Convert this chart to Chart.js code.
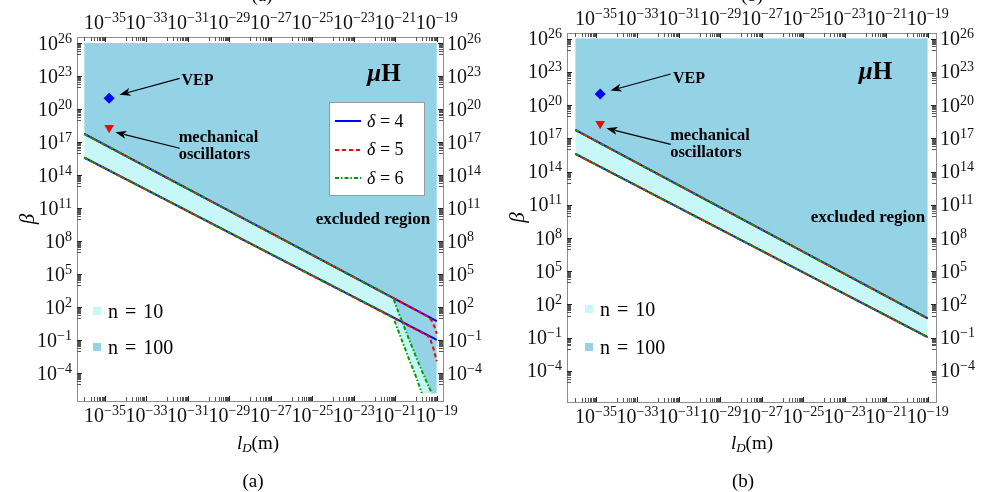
<!DOCTYPE html>
<html>
<head>
<meta charset="utf-8">
<script src="https://cdn.jsdelivr.net/npm/chart.js@4/dist/chart.umd.min.js"></script>
<style>
  body { margin: 0; background: #fff; width: 983px; height: 492px; overflow: hidden; position: relative;
         font-family: "Liberation Serif", "DejaVu Serif", serif; color: #000; }
  .panel { position: absolute; top: 0; height: 492px; }
  .txt { position: absolute; white-space: nowrap; line-height: 1; transform: translate(-50%, -50%); }
  .bold { font-weight: bold; }
  .legbox { position: absolute; background: #fff; border: 1px solid #9a9a9a; box-sizing: border-box; }
  .legrow { position: absolute; left: 5px; height: 20px; display: flex; align-items: center; font-size: 18px; }
  .legrow svg { margin-right: 6px; }
  .sq { position: absolute; width: 8px; height: 8px; }
  .nlab { position: absolute; font-size: 20px; line-height: 1; transform: translateY(-50%); white-space: nowrap; word-spacing: 2px; }
</style>
</head>
<body>
<div class="panel" style="left:0;width:490px"><canvas id="chartA"></canvas></div>
<div class="panel" style="left:490px;width:493px"><canvas id="chartB"></canvas></div>

<script>
// eixos: expoente de l_D (m) no x, expoente de beta no y
const xTicksLabeled = [-35, -33, -31, -29, -27, -25, -23, -21, -19];
const yTicksLabeled = [-4, -1, 2, 5, 8, 11, 14, 17, 20, 23, 26];

// limites da regiao desenhada
const lDRange = [-36, -19];
const betaTop = 26;
const betaBottom = -5.8;

// delta = 4 (retas) -- n = 100 em cima, n = 10 embaixo
const lx4 = [-36, -19];
const beta4n100 = [17.75, 0.75];
const beta4n10 = [15.6, -0.95];

// delta = 5 no painel (a): cai perto de 1e-19
const lx5n100 = [-36, -19.4, -19.25, -19.1, -19.0];
const beta5n100 = [17.75, 1.15, 0.8, 0.2, -0.4];
const lx5n10 = [-36, -19.45, -19.3, -19.15, -19.0];
const beta5n10 = [15.6, -0.55, -0.95, -1.8, -2.9];

// delta = 6 no painel (a): cai a partir de ~1e-21
const lx6n100 = [-36, -21.1, -20.8, -20.4, -20.0, -19.6, -19.24];
const beta6n100 = [17.75, 2.85, 1.3, -0.6, -2.5, -4.3, -5.8];
const lx6n10 = [-36, -21.1, -20.8, -20.4, -20.0, -19.72];
const beta6n10 = [15.6, 1.1, -0.4, -2.4, -4.3, -5.8];

// pontos experimentais
const vepLD = [-34.8], vepBeta = [21.0];
const oscLD = [-34.8], oscBeta = [18.3];

// cores
const colN100 = '#94d2e6';
const colN10 = '#c8f7f7';
const colD4 = '#0000ff', colD5 = '#ff0000', colD6 = '#00a000';

const FONT = '"Liberation Serif", serif';

function pts(xs, ys) {
    return xs.map((x, i) => ({ x: x, y: ys[i] }));
}

// ticks menores: para cada potencia rotulada m, a decada anterior inteira
function tickValues(labeled) {
    const out = [];
    labeled.forEach(m => {
        for (let k = 1; k <= 9; k++) out.push(m - 1 + Math.log10(k));
        out.push(m);
    });
    return out;
}

function isLabeled(v, labeled) {
    return labeled.some(m => Math.abs(m - v) < 1e-9);
}

function expText(v) {
    return String(Math.round(v)).replace('-', '\u2212');
}

function axis(position, min, max, size, labeled) {
    return {
        type: 'linear', position: position, min: min, max: max,
        grid: { display: false, drawTicks: false },
        border: { display: true, color: '#8e8e8e', width: 1 },
        ticks: {
            display: false, autoSkip: false, maxRotation: 0,
            callback: v => isLabeled(v, labeled) ? '10^' + Math.round(v) : ''
        },
        afterBuildTicks: s => { s.ticks = tickValues(labeled).map(v => ({ value: v })); },
        afterFit: s => { if (s.isHorizontal()) s.height = size; else s.width = size; }
    };
}

// ticks para dentro do quadro, rotulos 10^n e setas das anotacoes
const framePlugin = {
    id: 'frameMarks',
    afterDraw(chart, args, opts) {
        const ctx = chart.ctx, a = chart.chartArea;
        ctx.save();
        ctx.lineWidth = 1;
        Object.values(chart.scales).forEach(s => {
            const labeled = s.axis === 'x' ? xTicksLabeled : yTicksLabeled;
            s.ticks.forEach(t => {
                const major = isLabeled(t.value, labeled);
                const len = major ? 5 : 4;
                const pix = s.getPixelForValue(t.value);
                const p = Math.round(pix) + 0.5;
                ctx.strokeStyle = major ? '#222' : '#555';
                ctx.beginPath();
                if (s.position === 'bottom') { ctx.moveTo(p, a.bottom); ctx.lineTo(p, a.bottom - len); }
                else if (s.position === 'top') { ctx.moveTo(p, a.top); ctx.lineTo(p, a.top + len); }
                else if (s.position === 'left') { ctx.moveTo(a.left, p); ctx.lineTo(a.left + len, p); }
                else { ctx.moveTo(a.right, p); ctx.lineTo(a.right - len, p); }
                ctx.stroke();
                if (!major) return;
                // rotulo: "10" com expoente elevado
                const base = '10', ex = expText(t.value);
                ctx.font = '20px ' + FONT;
                const w1 = ctx.measureText(base).width;
                ctx.font = '14px ' + FONT;
                const w2 = ctx.measureText(ex).width;
                let x0, yb;
                if (s.position === 'bottom') { x0 = pix - (w1 + w2) / 2; yb = a.bottom + 21; }
                else if (s.position === 'top') { x0 = pix - (w1 + w2) / 2; yb = a.top - 8; }
                else if (s.position === 'left') { x0 = a.left - 5 - w1 - w2; yb = pix + 6.5; }
                else { x0 = a.right + 4; yb = pix + 6.5; }
                ctx.fillStyle = '#111';
                ctx.textAlign = 'left';
                ctx.textBaseline = 'alphabetic';
                ctx.font = '20px ' + FONT;
                ctx.fillText(base, x0, yb);
                ctx.font = '14px ' + FONT;
                ctx.fillText(ex, x0 + w1, yb - 7);
            });
        });
        // setas
        const xs = chart.scales.x, ys = chart.scales.y;
        (opts.arrows || []).forEach(ar => {
            const x1 = xs.getPixelForValue(ar[0]), y1 = ys.getPixelForValue(ar[1]);
            const x2 = xs.getPixelForValue(ar[2]), y2 = ys.getPixelForValue(ar[3]);
            const ang = Math.atan2(y2 - y1, x2 - x1);
            const c = Math.cos(ang), sn = Math.sin(ang);
            const hl = 11, hw = 4;
            ctx.strokeStyle = '#000';
            ctx.fillStyle = '#000';
            ctx.lineWidth = 1.2;
            ctx.beginPath();
            ctx.moveTo(x1, y1);
            ctx.lineTo(x2 - c * hl * 0.8, y2 - sn * hl * 0.8);
            ctx.stroke();
            ctx.beginPath();
            ctx.moveTo(x2, y2);
            ctx.lineTo(x2 - c * hl + sn * hw, y2 - sn * hl - c * hw);
            ctx.lineTo(x2 - c * hl * 0.75, y2 - sn * hl * 0.75);
            ctx.lineTo(x2 - c * hl - sn * hw, y2 - sn * hl + c * hw);
            ctx.closePath();
            ctx.fill();
        });
        ctx.restore();
    }
};

function lineDs(data, color, dash) {
    return { data: data, borderColor: color, borderWidth: 2, borderDash: dash, pointRadius: 0, fill: false };
}
function fillDs(data, color) {
    return { data: data, borderColor: 'rgba(0,0,0,0)', borderWidth: 1, pointRadius: 0,
             backgroundColor: color, fill: { value: betaTop } };
}

function makePanel(id, cfg) {
    const datasets = [
        { data: pts(vepLD, vepBeta), showLine: false, pointStyle: 'rectRot', pointRadius: 5.5,
          backgroundColor: colD4, borderWidth: 0 },
        { data: pts(oscLD, oscBeta), showLine: false, pointStyle: 'triangle', rotation: 180, pointRadius: 5.5,
          backgroundColor: colD5, borderWidth: 0 },
        lineDs(cfg.d6n100, colD6, [4, 2, 1.5, 2]),
        lineDs(cfg.d6n10, colD6, [4, 2, 1.5, 2]),
        lineDs(cfg.d5n100, colD5, [4, 3]),
        lineDs(cfg.d5n10, colD5, [4, 3]),
        lineDs(pts(lx4, beta4n100), colD4, []),
        lineDs(pts(lx4, beta4n10), colD4, []),
        fillDs(cfg.fillN100, colN100),
        fillDs(cfg.fillN10, colN10)
    ];
    const yLeft = axis('left', cfg.yMin, cfg.yMax, cfg.left, yTicksLabeled);
    yLeft.title = { display: true, text: 'β', color: '#000',
                    font: { family: 'Liberation Serif', size: 21, style: 'italic' }, padding: { top: 16, bottom: 0 } };
    return new Chart(document.getElementById(id), {
        type: 'line',
        data: { datasets: datasets },
        options: {
            responsive: true,
            maintainAspectRatio: false,
            animation: false,
            events: [],
            layout: { padding: 0 },
            plugins: { legend: { display: false }, tooltip: { enabled: false }, frameMarks: { arrows: cfg.arrows } },
            scales: {
                x: axis('bottom', cfg.xMin, cfg.xMax, cfg.bottom, xTicksLabeled),
                x2: axis('top', cfg.xMin, cfg.xMax, cfg.top, xTicksLabeled),
                y: yLeft,
                y2: axis('right', cfg.yMin, cfg.yMax, cfg.right, yTicksLabeled)
            }
        },
        plugins: [framePlugin]
    });
}

const bottomPt = { x: lDRange[1], y: betaBottom };
const arrowsList = [[-31.4, 22.8, -34.3, 21.3], [-31.4, 16.45, -34.5, 17.9]];

// painel (a)
makePanel('chartA', {
    xMin: -36.35, xMax: -18.7, yMin: -6.5, yMax: 26.55,
    left: 77, right: 47, top: 37, bottom: 91,
    d6n100: pts(lx6n100, beta6n100), d6n10: pts(lx6n10, beta6n10),
    d5n100: pts(lx5n100, beta5n100), d5n10: pts(lx5n10, beta5n10),
    fillN100: pts(lx6n100, beta6n100).concat([bottomPt]),
    fillN10: pts(lx6n10, beta6n10).concat([bottomPt]),
    arrows: arrowsList
});

// painel (b): sem desvio das curvas
makePanel('chartB', {
    xMin: -36.4, xMax: -18.6, yMin: -6.8, yMax: 26.5,
    left: 77, right: 47, top: 33, bottom: 90,
    d6n100: pts(lx4, beta4n100), d6n10: pts(lx4, beta4n10),
    d5n100: pts(lx4, beta4n100), d5n10: pts(lx4, beta4n10),
    fillN100: pts(lx4, beta4n100),
    fillN10: pts(lx4, beta4n10),
    arrows: arrowsList
});

// textos sobrepostos
function addText(html, cx, cy, size, cls) {
    const d = document.createElement('div');
    d.className = 'txt ' + (cls || '');
    d.style.left = cx + 'px';
    d.style.top = cy + 'px';
    d.style.fontSize = size + 'px';
    d.innerHTML = html;
    document.body.appendChild(d);
}

function legendLine(color, dash) {
    return '<svg width="26" height="4"><line x1="0" y1="2" x2="26" y2="2" stroke="' + color +
           '" stroke-width="2" stroke-dasharray="' + dash + '"/></svg>';
}

function nLegend(x, y10, y100) {
    [[y10, colN10, 'n = 10'], [y100, colN100, 'n = 100']].forEach(r => {
        const s = document.createElement('div');
        s.className = 'sq';
        s.style.left = (x - 4) + 'px';
        s.style.top = (r[0] - 4) + 'px';
        s.style.background = r[1];
        document.body.appendChild(s);
        const t = document.createElement('div');
        t.className = 'nlab';
        t.style.left = (x + 11) + 'px';
        t.style.top = r[0] + 'px';
        t.textContent = r[2];
        document.body.appendChild(t);
    });
}

const panels = [
    { dx: 0, dy: 0, cap: '(a)', capX: 253, titleX: 258, topX: 262, ex: 373 },
    { dx: 491.5, dy: -2, cap: '(b)', capX: 743, titleX: 752, topX: 752, ex: 868 }
];
panels.forEach(p => {
    addText(p.cap, p.topX, -6, 19);
    addText('VEP', 197.5 + p.dx, 80 + p.dy, 16, 'bold');
    addText('<i>μ</i>H', 384 + p.dx, 72 + p.dy, 25, 'bold');
    addText('mechanical<br>oscillators', 218.5 + p.dx, 145 + p.dy, 16.5, 'bold');
    addText('excluded region', p.ex, 218 + p.dy, 17, 'bold');
    addText('<i>l</i><sub style="font-size:13px;vertical-align:-3px"><i>D</i></sub>(m)', p.titleX, 443, 19);
    addText(p.cap, p.capX, 480, 19);
});
nLegend(97, 311, 347);
nLegend(589, 309, 347);

// legenda de delta (so no painel a)
const lb = document.createElement('div');
lb.className = 'legbox';
lb.style.left = '329px';
lb.style.top = '102px';
lb.style.width = '96px';
lb.style.height = '94px';
[[colD4, '', '4'], [colD5, '4 3', '5'], [colD6, '4 2 1.5 2', '6']].forEach((r, i) => {
    const row = document.createElement('div');
    row.className = 'legrow';
    row.style.top = (8 + i * 28.5) + 'px';
    row.innerHTML = legendLine(r[0], r[1]) + '<span><i>δ</i> = ' + r[2] + '</span>';
    lb.appendChild(row);
});
document.body.appendChild(lb);
</script>
</body>
</html>
